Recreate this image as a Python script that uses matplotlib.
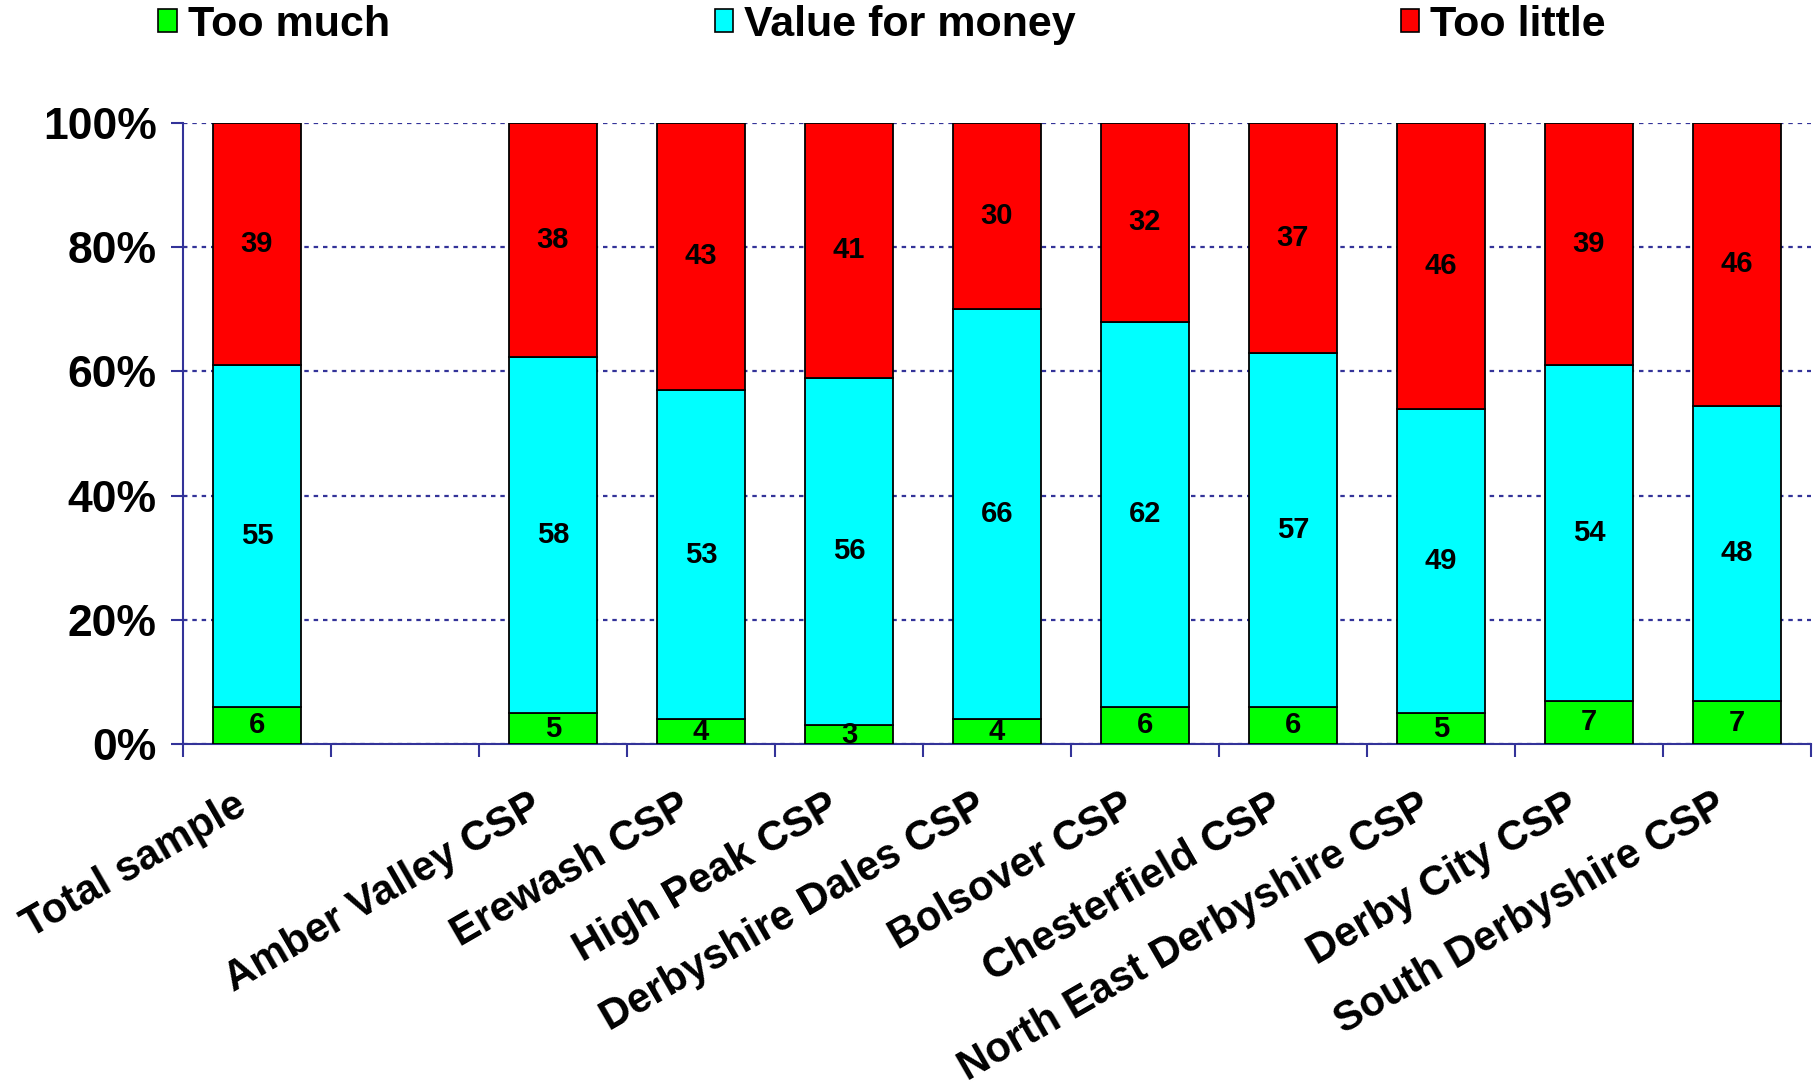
import matplotlib
matplotlib.use("Agg")
import matplotlib.pyplot as plt
import matplotlib.transforms as mtransforms
from matplotlib.patches import Patch
import numpy as np

plt.rcParams['font.family'] = ['Liberation Sans', 'DejaVu Sans']
plt.rcParams['font.weight'] = 'bold'

# chart data (second slot is an empty gap in the original)
categories = ["Total sample", "", "Amber Valley CSP", "Erewash CSP", "High Peak CSP",
              "Derbyshire Dales CSP", "Bolsover CSP", "Chesterfield CSP",
              "North East Derbyshire CSP", "Derby City CSP", "South Derbyshire CSP"]
too_much = [6, np.nan, 5, 4, 3, 4, 6, 6, 5, 7, 7]
value_for_money = [55, np.nan, 58, 53, 56, 66, 62, 57, 49, 54, 48]
too_little = [39, np.nan, 38, 43, 41, 30, 32, 37, 46, 39, 46]

series_names = ["Too much", "Value for money", "Too little"]
colors = ["#00ff00", "#00ffff", "#ff0000"]
axis_col = "#333399"

raw = np.array([too_much, value_for_money, too_little], dtype=float)
pct = raw / np.nansum(raw, axis=0) * 100   # 100% stacked

fig = plt.figure(figsize=(18.2, 10.87), dpi=100)
ax = fig.add_axes([0.1005, 0.3155, 0.8945, 0.5715])

x = np.arange(len(categories))
has_data = ~np.isnan(raw[0])
bottom = np.zeros(len(categories))
for i in range(3):
    h = np.nan_to_num(pct[i])
    ax.bar(x[has_data], h[has_data], bottom=bottom[has_data], width=0.6, color=colors[i],
           edgecolor="black", linewidth=1.3, zorder=3)
    for j in x[has_data]:
        ax.text(x[j], bottom[j] + h[j] / 2, "%d" % raw[i, j], ha="center", va="center",
                fontsize=21, fontweight="bold", zorder=4)
    bottom = bottom + h

ax.set_xlim(-0.5, len(categories) - 0.5)
ax.set_ylim(0, 100)
ax.set_yticks(np.arange(0, 101, 20))
ax.set_yticklabels(["%d%%" % v for v in range(0, 101, 20)], fontsize=32, fontweight="bold")
ax.yaxis.grid(True, color=axis_col, linestyle=(0, (2, 2.2)), linewidth=1.6, zorder=0)

# category labels at centres, tick marks at boundaries
ax.set_xticks(x)
ax.set_xticklabels(categories, fontsize=30, fontweight="bold", rotation=30,
                   ha="right", va="top", rotation_mode="anchor")
ax.set_xticks(np.arange(-0.5, len(categories)), minor=True)
ax.tick_params(axis="x", which="major", length=0, pad=30)
ax.tick_params(axis="x", which="minor", length=9, width=1.5, color=axis_col, direction="out")
ax.tick_params(axis="y", length=9, width=1.5, color=axis_col, pad=10)
shift = mtransforms.ScaledTranslation(-24 / 100, 0, fig.dpi_scale_trans)
for lab in ax.get_xticklabels():
    lab.set_transform(lab.get_transform() + shift)

for s in ["top", "right"]:
    ax.spines[s].set_visible(False)
for s in ["left", "bottom"]:
    ax.spines[s].set_color(axis_col)
    ax.spines[s].set_linewidth(1.5)

handles = [Patch(facecolor=c, edgecolor="black", linewidth=1.2) for c in colors]
fig.legend(handles, series_names, loc="center left", bbox_to_anchor=(0.087, 0.977),
           ncol=3, frameon=False, handlelength=0.43, handleheight=0.46,
           handletextpad=0.25, columnspacing=7.55, borderpad=0, borderaxespad=0,
           prop={"weight": "bold", "size": 31})

fig.savefig("out.png", dpi=100)
